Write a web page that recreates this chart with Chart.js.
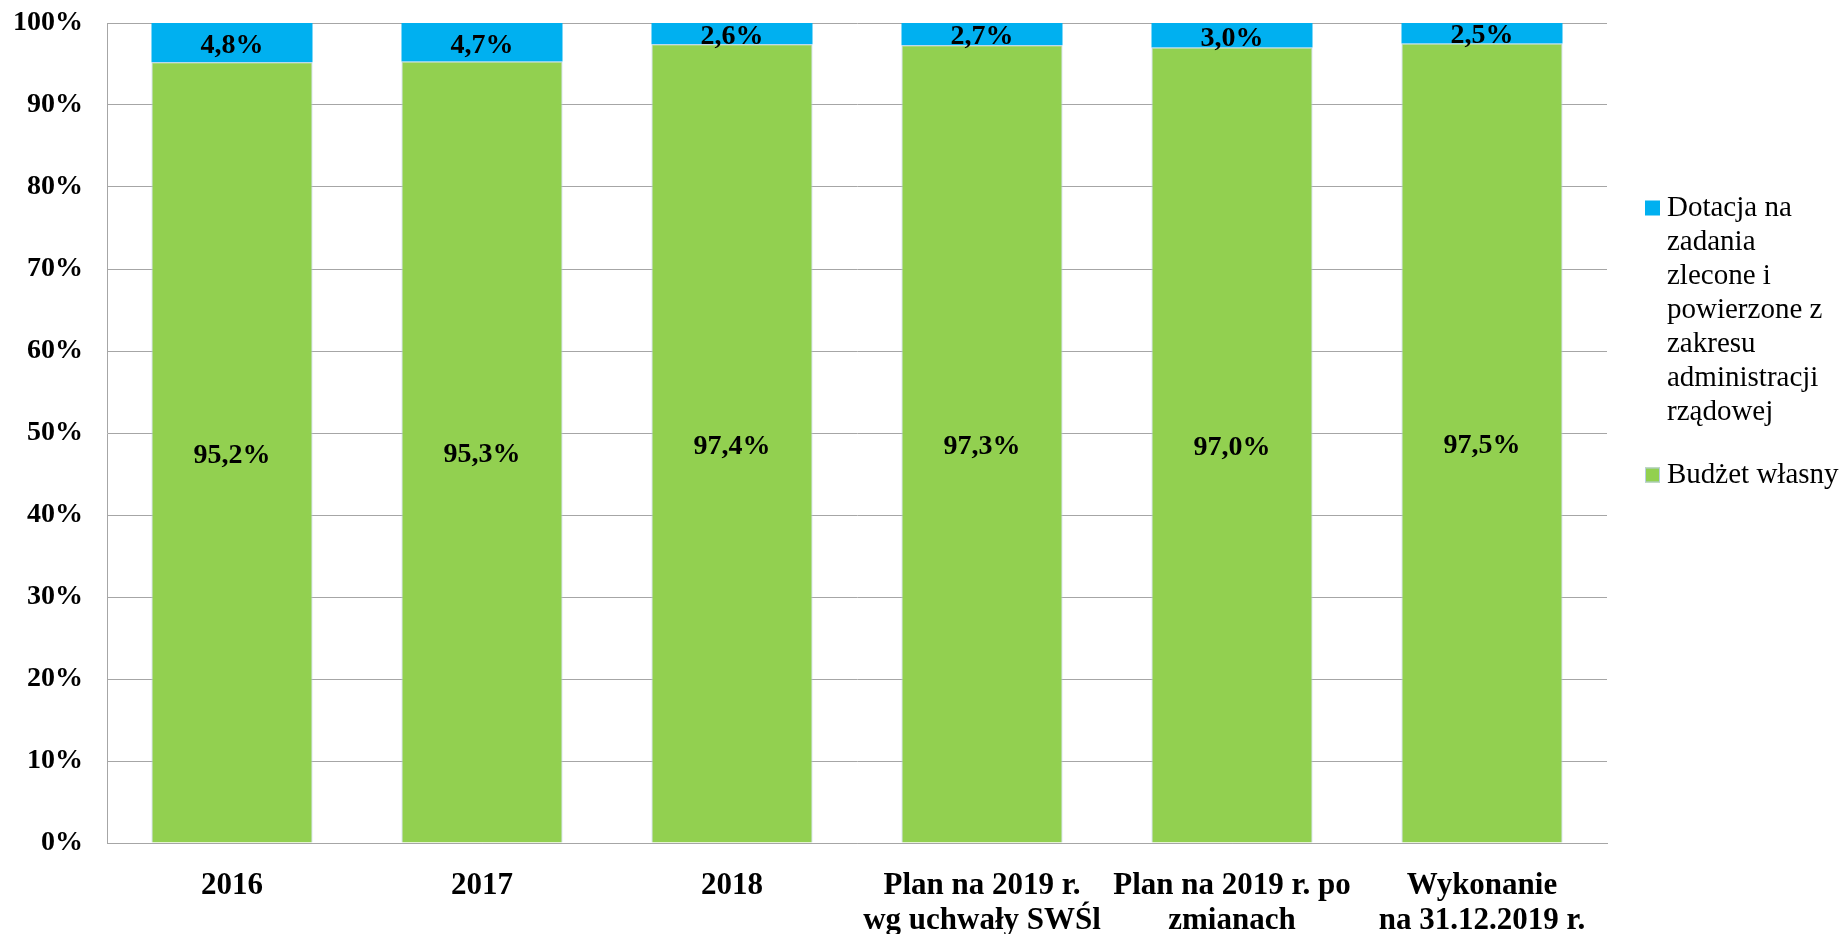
<!DOCTYPE html>
<html>
<head>
<meta charset="utf-8">
<script src="https://cdn.jsdelivr.net/npm/chart.js@4"></script>
<style>
    body { margin: 0; background: #fff; }
    #wrap { width: 1845px; height: 934px; position: relative; }
</style>
</head>
<body>
<div id="wrap"><canvas id="budgetChart"></canvas></div>
<script>
const categories = [
    '2016',
    '2017',
    '2018',
    ['Plan na 2019 r.', 'wg uchwały SWŚl'],
    ['Plan na 2019 r. po', 'zmianach'],
    ['Wykonanie', 'na 31.12.2019 r.']
];
const budzetWlasny = [95.2, 95.3, 97.4, 97.3, 97.0, 97.5];
const dotacja = [4.8, 4.7, 2.6, 2.7, 3.0, 2.5];
const seriesNames = [
    'Budżet własny',
    'Dotacja na zadania zlecone i powierzone z zakresu administracji rządowej'
];

const serif = "'Liberation Serif', 'Times New Roman', serif";
const gridGray = '#a6a6a6';

function pct(v) {
    return v.toFixed(1).replace('.', ',') + '%';
}

// values written in the middle of each segment
const segmentLabels = {
    id: 'segmentLabels',
    afterDatasetsDraw(chart) {
        const ctx = chart.ctx;
        ctx.save();
        ctx.font = 'bold 28px ' + serif;
        ctx.fillStyle = '#000';
        ctx.textAlign = 'center';
        ctx.textBaseline = 'middle';
        chart.data.datasets.forEach((ds, i) => {
            chart.getDatasetMeta(i).data.forEach((bar, j) => {
                ctx.fillText(pct(ds.data[j]), bar.x, (bar.y + bar.base) / 2 + 3);
            });
        });
        ctx.restore();
    }
};

// legend on the right, wrapped like the original
const sideLegend = {
    id: 'sideLegend',
    afterDraw(chart) {
        const ctx = chart.ctx;
        const left = chart.chartArea.right + 38;
        const maxW = 180;
        const lineH = 34;
        let y = 208;
        ctx.save();
        ctx.font = '29px ' + serif;
        ctx.textBaseline = 'middle';
        ctx.textAlign = 'left';
        const items = chart.data.datasets.slice().reverse();
        items.forEach(ds => {
            const words = ds.label.split(' ');
            const lines = [];
            let cur = '';
            words.forEach(w => {
                const test = cur ? cur + ' ' + w : w;
                if (ctx.measureText(test).width > maxW && cur) {
                    lines.push(cur);
                    cur = w;
                } else {
                    cur = test;
                }
            });
            if (cur) lines.push(cur);

            ctx.fillStyle = ds.backgroundColor;
            ctx.fillRect(left, y - 7.5, 15, 15);
            ctx.strokeStyle = ds.borderColor;
            ctx.lineWidth = 1;
            if (ds.legendBorder) ctx.strokeRect(left + 0.5, y - 7, 14, 14);
            ctx.fillStyle = '#000';
            lines.forEach((ln, k) => ctx.fillText(ln, left + 22, y + k * lineH));
            y += lines.length * lineH + 29;
        });
        ctx.restore();
    }
};

const ctx = document.getElementById('budgetChart').getContext('2d');
new Chart(ctx, {
    type: 'bar',
    data: {
        labels: categories,
        datasets: [
            {
                label: seriesNames[0],
                data: budzetWlasny,
                backgroundColor: '#92d050',
                borderColor: '#b8cce4',
                borderWidth: 1,
                legendBorder: true
            },
            {
                label: seriesNames[1],
                data: dotacja,
                backgroundColor: '#00b0f0',
                borderColor: '#00b0f0',
                borderWidth: 0
            }
        ]
    },
    options: {
        responsive: true,
        maintainAspectRatio: false,
        animation: false,
        layout: { padding: { left: 0, right: 238, top: 23, bottom: 0 } },
        datasets: { bar: { categoryPercentage: 0.644, barPercentage: 1 } },
        scales: {
            x: {
                stacked: true,
                grid: { display: false },
                border: { display: true, color: gridGray, width: 1 },
                ticks: {
                    color: '#000',
                    padding: 18,
                    maxRotation: 0,
                    autoSkip: false,
                    font: { family: serif, size: 31, weight: 'bold', lineHeight: 1.12 }
                },
                afterFit(scale) { scale.height = 91; }
            },
            y: {
                stacked: true,
                min: 0,
                max: 100,
                grid: { color: gridGray, lineWidth: 1, drawTicks: false },
                border: { display: true, color: gridGray, width: 1 },
                ticks: {
                    stepSize: 10,
                    color: '#000',
                    padding: 24,
                    font: { family: serif, size: 28, weight: 'bold' },
                    callback: v => v + '%'
                },
                afterFit(scale) {
                    scale.width = 107;
                    scale.paddingTop = 0;
                    scale.paddingBottom = 0;
                }
            }
        },
        plugins: {
            legend: { display: false },
            tooltip: { enabled: false },
            title: { display: false }
        }
    },
    plugins: [segmentLabels, sideLegend]
});
</script>
</body>
</html>
